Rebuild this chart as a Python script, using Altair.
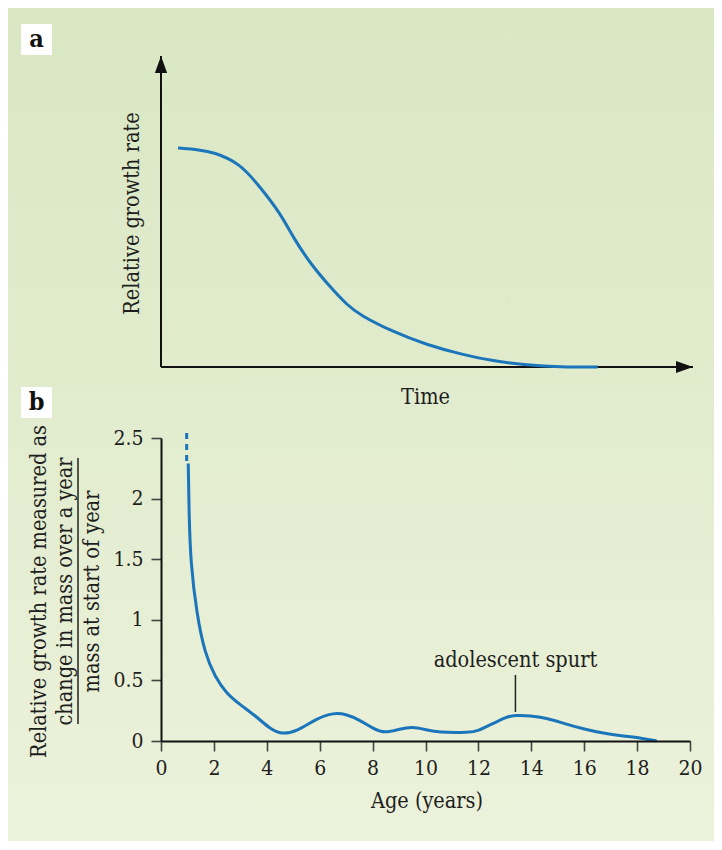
import altair as alt
import pandas as pd

FONT = "DejaVu Serif Condensed"
BLUE = "#1b75bb"
INK = "#1e1e1e"

# ---- panel a: schematic relative growth rate vs time (axes 0..1) ----
a_time = [0.032, 0.073, 0.098, 0.148, 0.186, 0.224, 0.248, 0.280, 0.318, 0.350,
          0.374, 0.436, 0.500, 0.562, 0.624, 0.688, 0.750, 0.821]
a_rate = [0.704, 0.698, 0.691, 0.656, 0.579, 0.495, 0.418, 0.334, 0.257, 0.199,
          0.167, 0.113, 0.071, 0.042, 0.019, 0.006, 0.0, 0.0]

# ---- panel b: measured relative growth rate vs age ----
ages = [1.03, 1.06, 1.12, 1.35, 1.66, 2.04, 2.48, 2.99, 3.62, 4.12, 4.56, 5.13,
        5.89, 6.52, 7.02, 7.52, 8.03, 8.47, 9.04, 9.48, 9.98, 10.48, 11.68, 12.0,
        12.57, 13.07, 13.38, 13.95, 14.58, 15.21, 15.97, 16.73, 17.48, 18.24, 18.74]
rates = [2.29, 1.88, 1.47, 1.05, 0.72, 0.53, 0.39, 0.30, 0.20, 0.10, 0.055, 0.077,
         0.187, 0.234, 0.22, 0.173, 0.10, 0.063, 0.10, 0.118, 0.096, 0.069, 0.069, 0.085,
         0.146, 0.20, 0.212, 0.209, 0.19, 0.146, 0.099, 0.063, 0.041, 0.022, 0.0]
dash_age = [0.97, 0.97]
dash_rate = [2.31, 2.57]

x_ticks = [0, 2, 4, 6, 8, 10, 12, 14, 16, 18, 20]
y_ticks = [0, 0.5, 1, 1.5, 2, 2.5]

spurt_label = "adolescent spurt"
spurt_age = 13.4
spurt_text_rate = 0.61
spurt_line = [0.24, 0.545]

y_title_b = ["Relative growth rate measured as", "change in mass over a year", "mass at start of year"]

BG_TOP, BG_MID, BG_BOT = "#d9e7c3", "#e2ecce", "#ecf2db"

one = pd.DataFrame({"k": [0]})
df_a = pd.DataFrame({"t": a_time, "r": a_rate})
df_b = pd.DataFrame({"age": ages, "rate": rates})
df_dash = pd.DataFrame({"age": dash_age, "rate": dash_rate})
df_axes = pd.DataFrame({"x0": [0, 0], "y0": [0, 0], "x1": [0, 1], "y1": [1, 0]})
df_arrows = pd.DataFrame({"t": [0, 1], "r": [1, 0],
                          "shape": ["M0,0L0.36,1L-0.36,1Z", "M0,0L-1,-0.36L-1,0.36Z"]})


def grad(c0, c1):
    return alt.LinearGradient(gradient="linear", x1=0, x2=0, y1=0, y2=1,
                              stops=[alt.GradientStop(color=c0, offset=0),
                                     alt.GradientStop(color=c1, offset=1)])


def label_box(y0, letter):
    box = alt.Chart(one).mark_rect(fill="white").encode(
        x=alt.value(-140), x2=alt.value(-109), y=alt.value(y0), y2=alt.value(y0 + 31))
    txt = alt.Chart(one).mark_text(text=letter, font=FONT, fontSize=25, fontWeight="bold",
                                   color="#111", align="center", baseline="middle").encode(
        x=alt.value(-124.5), y=alt.value(y0 + 15))
    return box + txt


TS = 21.5
title_style = dict(titleFont=FONT, titleFontSize=TS, titleFontWeight="normal", titleColor=INK,
                   zindex=2)

# ---------- panel a ----------
WA, HA = 532, 311
xa = alt.X("t:Q", scale=alt.Scale(domain=[0, 1], nice=False, zero=False),
           axis=alt.Axis(title="Time", domain=False, ticks=False, labels=False, grid=False,
                         titleX=264, titleY=36, titleBaseline="alphabetic", titleAlign="center",
                         **title_style))
ya = alt.Y("r:Q", scale=alt.Scale(domain=[0, 1], nice=False, zero=False),
           axis=alt.Axis(title="Relative growth rate", domain=False, ticks=False, labels=False,
                         grid=False, titleX=-23, titleY=157, titleBaseline="alphabetic",
                         titleAlign="center", **title_style))

bg_a = alt.Chart(one).mark_rect(fill=grad(BG_TOP, BG_MID)).encode(
    x=alt.value(-153), x2=alt.value(553), y=alt.value(-48), y2=alt.value(364))
axes_a = alt.Chart(df_axes).mark_rule(color="#111", strokeWidth=2).encode(
    x=alt.X("x0:Q"), y=alt.Y("y0:Q"), x2="x1:Q", y2="y1:Q")
arrows_a = alt.Chart(df_arrows).mark_point(filled=True, color="#111", opacity=1, size=1156,
                                           strokeWidth=0).encode(
    x=alt.X("t:Q"), y=alt.Y("r:Q"), shape=alt.Shape("shape:N", scale=None, legend=None))
curve_a = alt.Chart(df_a).mark_line(color=BLUE, strokeWidth=3, interpolate="basis").encode(
    x=xa, y=ya)

panel_a = alt.layer(bg_a, label_box(-32, "a"), label_box(331, "b"), axes_a, arrows_a, curve_a
                    ).properties(width=WA, height=HA)

# ---------- panel b ----------
WB, HB = 529, 303
axis_common = dict(domainColor="#111", domainWidth=2, tickColor="#444", tickWidth=1.6,
                   tickSize=10, labelFont=FONT, labelFontSize=21, labelColor=INK, grid=False,
                   labelFlush=False, labelOverlap=False, **title_style)
xb = alt.X("age:Q", scale=alt.Scale(domain=[0, 20], nice=False, zero=False),
           axis=alt.Axis(values=x_ticks, title="Age (years)", labelPadding=6,
                         titleX=WB / 2 + 1, titleY=66, titleBaseline="alphabetic",
                         titleAlign="center", **axis_common))
yb = alt.Y("rate:Q", scale=alt.Scale(domain=[0, 2.5], nice=False),
           axis=alt.Axis(values=y_ticks, format="~g", title=y_title_b, labelPadding=8,
                         titleX=-116, titleY=153, titleBaseline="alphabetic",
                         titleAlign="center", titleLineHeight=26.5, **axis_common))

bg_b = alt.Chart(one).mark_rect(fill=grad(BG_MID, BG_BOT)).encode(
    x=alt.value(-153), x2=alt.value(553), y=alt.value(-18), y2=alt.value(403))
frac_bar = alt.Chart(one).mark_rule(color="#222", strokeWidth=1.5).encode(
    x=alt.value(-83), y=alt.value(20), y2=alt.value(286))
curve_b = alt.Chart(df_b).mark_line(color=BLUE, strokeWidth=3, interpolate="basis").encode(
    x=xb, y=yb)
dash_b = alt.Chart(df_dash).mark_line(color=BLUE, strokeWidth=3, strokeDash=[6, 5]).encode(
    x="age:Q", y="rate:Q")
spurt_rule = alt.Chart(one).mark_rule(color="#222", strokeWidth=1.5).encode(
    x=alt.datum(spurt_age), y=alt.datum(spurt_line[0]), y2=alt.datum(spurt_line[1]))
spurt_text = alt.Chart(one).mark_text(text=spurt_label, font=FONT, fontSize=TS, color=INK,
                                      align="center", baseline="alphabetic").encode(
    x=alt.datum(spurt_age), y=alt.datum(spurt_text_rate))

panel_b = alt.layer(bg_b, frac_bar, curve_b, dash_b, spurt_rule, spurt_text
                    ).properties(width=WB, height=HB)

chart = alt.vconcat(panel_a, panel_b, spacing=0, padding=0).configure_view(
    stroke=None).configure_concat(spacing=0)

chart.save("out.html", embed_options={"renderer": "svg", "actions": False})
